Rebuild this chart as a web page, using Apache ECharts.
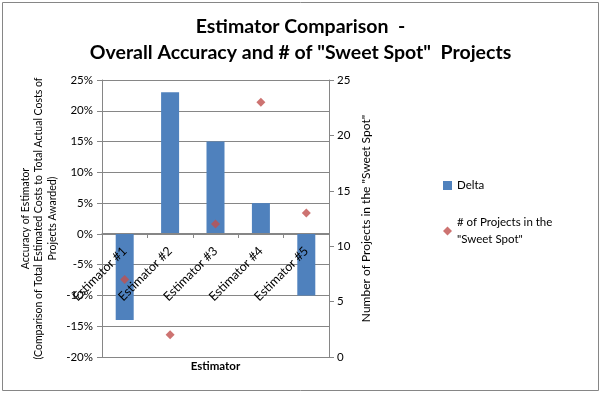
<!DOCTYPE html>
<html>
<head>
<meta charset="utf-8">
<script src="https://cdn.jsdelivr.net/npm/echarts@6/dist/echarts.min.js"></script>
<style>
html,body{margin:0;padding:0;background:#fff;}
#chart{width:601px;height:394px;}
</style>
</head>
<body>
<div id="chart"></div>
<script>
const categories = ["Estimator #1", "Estimator #2", "Estimator #3", "Estimator #4", "Estimator #5"];
const deltaValues = [-0.14, 0.23, 0.15, 0.05, -0.10];
const sweetSpotCounts = [7, 2, 12, 23, 13];
const leftTicks = { min: -0.20, max: 0.25, interval: 0.05 };
const rightTicks = { min: 0, max: 25, interval: 5 };

const FONT = 'Lato, "Noto Sans", sans-serif';
const GRAY = '#868686';

const chart = echarts.init(document.getElementById('chart'), null, { renderer: 'canvas' });
chart.setOption({
  animation: false,
  backgroundColor: '#fff',
  textStyle: { fontFamily: FONT },
  title: {
    text: 'Estimator Comparison  -\nOverall Accuracy and # of "Sweet Spot"  Projects',
    left: 'center',
    top: 9,
    textStyle: { fontFamily: FONT, fontSize: 19.5, fontWeight: 'bold', color: '#000', lineHeight: 26 }
  },
  graphic: [{
    type: 'rect', shape: { x: 2.5, y: 2.5, width: 596, height: 388 },
    style: { fill: 'none', stroke: GRAY, lineWidth: 1 }, silent: true
  }],
  legend: {
    orient: 'vertical',
    left: 443,
    top: 177,
    padding: 0,
    itemGap: 20,
    itemWidth: 9,
    itemHeight: 9,
    textStyle: { fontFamily: FONT, fontSize: 11.5, color: '#000', lineHeight: 17 },
    data: [
      { name: 'Delta', icon: 'rect' },
      { name: '# of Projects in the\n"Sweet Spot"', icon: 'diamond' }
    ]
  },
  grid: { left: 102, right: 272, top: 80, bottom: 37, containLabel: false, outerBoundsMode: 'none' },
  xAxis: {
    type: 'category',
    data: categories,
    offset: -124,
    z: 4,
    name: 'Estimator',
    nameLocation: 'middle',
    nameGap: 127,
    nameMoveOverlap: false,
    nameTextStyle: { fontFamily: FONT, fontSize: 11.5, fontWeight: 'bold', color: '#000' },
    axisLine: { onZero: false, lineStyle: { color: GRAY } },
    axisTick: { show: true, alignWithLabel: false, length: 5, lineStyle: { color: GRAY } },
    axisLabel: { rotate: 45, fontSize: 12.5, color: '#000', margin: 16, interval: 0 },
    splitLine: { show: false }
  },
  yAxis: [{
    type: 'value',
    min: leftTicks.min, max: leftTicks.max, interval: leftTicks.interval,
    name: 'Accuracy of Estimator\n(Comparison of Total Estimated Costs to Total Actual Costs of\nProjects Awarded)',
    nameLocation: 'middle',
    nameRotate: 90,
    nameGap: 43,
    nameMoveOverlap: false,
    nameTextStyle: { fontFamily: FONT, fontSize: 10.5, color: '#000', lineHeight: 13.5, align: 'center' },
    axisLine: { show: true, lineStyle: { color: GRAY } },
    axisTick: { show: true, length: 5, lineStyle: { color: GRAY } },
    axisLabel: { formatter: v => Math.round(v * 100) + '%', fontSize: 11.5, color: '#000', margin: 9 },
    splitLine: { show: true, lineStyle: { color: GRAY, width: 1 } }
  }, {
    type: 'value',
    position: 'right',
    min: rightTicks.min, max: rightTicks.max, interval: rightTicks.interval,
    name: 'Number of Projects in the "Sweet Spot"',
    nameLocation: 'middle',
    nameRotate: 90,
    nameGap: 31,
    nameMoveOverlap: false,
    nameTextStyle: { fontFamily: FONT, fontSize: 12, color: '#000' },
    axisLine: { show: true, lineStyle: { color: GRAY } },
    axisTick: { show: true, length: 5, lineStyle: { color: GRAY } },
    axisLabel: { fontSize: 11.5, color: '#000', margin: 8 },
    splitLine: { show: false }
  }],
  series: [{
    name: 'Delta',
    type: 'bar',
    yAxisIndex: 0,
    data: deltaValues,
    barWidth: 18,
    itemStyle: { color: '#4F81BD' }
  }, {
    name: '# of Projects in the\n"Sweet Spot"',
    type: 'scatter',
    yAxisIndex: 1,
    data: sweetSpotCounts,
    symbol: 'diamond',
    symbolSize: 9,
    itemStyle: { color: '#C0504D' },
    z: 5
  }]
});
</script>
</body>
</html>
